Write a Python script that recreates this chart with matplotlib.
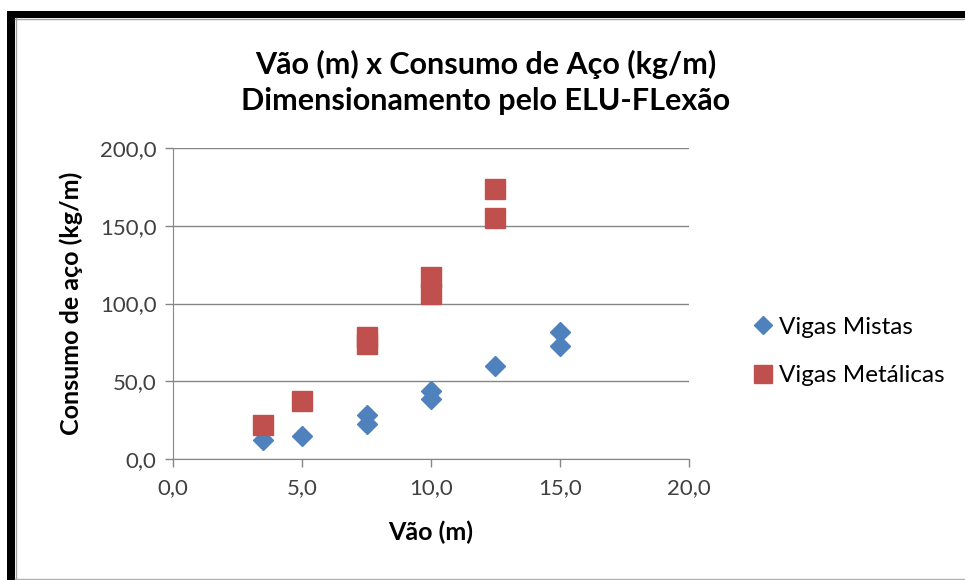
import matplotlib.pyplot as plt
from matplotlib.lines import Line2D
from matplotlib.patches import Rectangle
from matplotlib.ticker import FuncFormatter

plt.rcParams['font.family'] = ['Lato', 'DejaVu Sans']

# vão (m) x consumo de aço (kg/m)
vao_mistas = [3.5, 5.0, 7.5, 7.5, 10.0, 10.0, 12.5, 15.0, 15.0]
consumo_mistas = [12.5, 15.0, 28.3, 22.5, 43.9, 38.6, 59.8, 81.9, 72.9]

vao_metalicas = [3.5, 5.0, 7.5, 7.5, 10.0, 10.0, 12.5, 12.5]
consumo_metalicas = [21.9, 37.1, 78.5, 74.0, 117.2, 106.3, 173.8, 154.7]

x_ticks = [0, 5, 10, 15, 20]
y_ticks = [0, 50, 100, 150, 200]

azul = '#4F81BD'
vermelho = '#C0504D'
cinza = '#868686'

fig = plt.figure(figsize=(9.65, 5.8), dpi=100)

# moldura preta do lado esquerdo e em cima
W, H = 965, 580
fig.patches.append(Rectangle((7 / W, 0), 8 / W, (H - 11) / H, transform=fig.transFigure,
                             facecolor='black', edgecolor='none'))
fig.patches.append(Rectangle((7 / W, (H - 18) / H), (W - 7) / W, 7 / H, transform=fig.transFigure,
                             facecolor='black', edgecolor='none'))
fig.lines.append(Line2D([15.5 / W, 15.5 / W], [0, (H - 18) / H], transform=fig.transFigure,
                        color='#A0A0A0', lw=1))
fig.lines.append(Line2D([15 / W, 1], [(H - 18.5) / H, (H - 18.5) / H], transform=fig.transFigure,
                        color='#A0A0A0', lw=1))
fig.lines.append(Line2D([15 / W, 1], [0.6 / H, 0.6 / H], transform=fig.transFigure,
                        color='#B0B0B0', lw=1))

ax = fig.add_axes([173 / W, 121 / H, 516 / W, 311 / H])

ax.plot(vao_mistas, consumo_mistas, linestyle='none', marker='D', markersize=10.5,
        color=azul, label='Vigas Mistas', zorder=3)
ax.plot(vao_metalicas, consumo_metalicas, linestyle='none', marker='s', markersize=14.5,
        color=vermelho, label='Vigas Metálicas', zorder=4)

ax.set_xlim(0, 20)
ax.set_ylim(0, 200)
ax.set_xticks(x_ticks)
ax.set_yticks(y_ticks)
virgula = FuncFormatter(lambda v, p: f'{v:.1f}'.replace('.', ','))
ax.xaxis.set_major_formatter(virgula)
ax.yaxis.set_major_formatter(virgula)

ax.grid(axis='y', color=cinza, lw=1)
ax.set_axisbelow(True)
for lado in ['top', 'right']:
    ax.spines[lado].set_visible(False)
for lado in ['left', 'bottom']:
    ax.spines[lado].set_color(cinza)
ax.tick_params(colors=cinza, labelcolor='#404040', labelsize=16, length=6, width=1)
ax.tick_params(axis='x', pad=8)
ax.tick_params(axis='y', pad=6)

ax.set_xlabel('Vão (m)', fontsize=18, fontweight='bold', labelpad=16)
ax.set_ylabel('Consumo de aço (kg/m)', fontsize=18, fontweight='bold', labelpad=12)

fig.text(486 / W, 1 - 82 / H, 'Vão (m) x Consumo de Aço (kg/m)\nDimensionamento pelo ELU-FLexão',
         ha='center', va='center', fontsize=22, fontweight='bold', linespacing=1.35)

ax.legend(loc='center left', bbox_to_anchor=(1.073, 0.346), frameon=False, fontsize=17.5,
          handletextpad=0.05, labelspacing=1.12, handlelength=1.2, markerscale=0.9)

fig.savefig('out.png', dpi=100, facecolor='white')
